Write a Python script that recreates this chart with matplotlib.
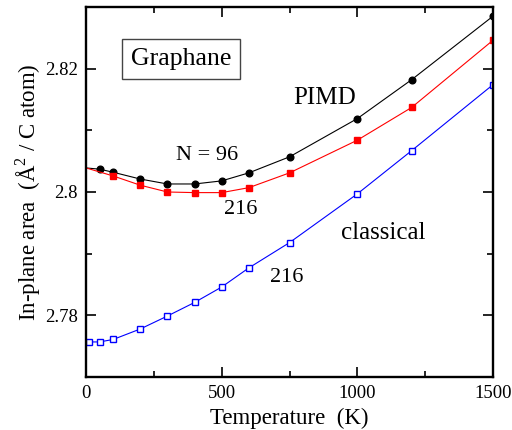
import matplotlib
matplotlib.use("Agg")
import matplotlib.pyplot as plt
from matplotlib.ticker import MultipleLocator, FuncFormatter

plt.rcParams['font.family'] = ['Liberation Serif', 'DejaVu Serif']
plt.rcParams['mathtext.fontset'] = 'custom'
plt.rcParams['mathtext.rm'] = 'Liberation Serif'

# PIMD, N = 96 (black)
t_96 = [0, 50, 100, 200, 300, 400, 500, 600, 750, 1000, 1200, 1500]
a_96 = [2.8039, 2.8037, 2.8032, 2.8021, 2.8013, 2.8013, 2.8018, 2.8031,
        2.8057, 2.8119, 2.8182, 2.8285]

# PIMD, N = 216 (red)
t_216 = [0, 100, 200, 300, 400, 500, 600, 750, 1000, 1200, 1500]
a_216 = [2.8039, 2.8026, 2.8011, 2.8000, 2.7999, 2.7999, 2.8007, 2.8031,
         2.8084, 2.8137, 2.8246]

# classical, N = 216 (blue)
t_cl = [10, 50, 100, 200, 300, 400, 500, 600, 750, 1000, 1200, 1500]
a_cl = [2.7757, 2.7757, 2.7761, 2.7778, 2.7799, 2.7821, 2.7846, 2.7877,
        2.7918, 2.7997, 2.8067, 2.8174]


def main():
    fig = plt.figure(figsize=(5.12, 4.30), dpi=100)
    ax = fig.add_axes([0.168, 0.123, 0.795, 0.861])

    # markers only where points were computed, first black/red point is the T=0 limit
    ax.plot(t_96, a_96, '-', color='black', lw=0.8)
    ax.plot(t_96[1:], a_96[1:], 'o', color='black', ms=4.8, ls='none')
    ax.plot(t_216, a_216, '-', color='red', lw=0.8)
    ax.plot(t_216[1:], a_216[1:], 's', color='red', ms=4.0, ls='none')
    ax.plot(t_cl, a_cl, '-', color='blue', lw=0.8, marker='s', ms=4.2,
            mfc='white', mec='blue', mew=1.0)

    ax.set_xlim(0, 1500)
    ax.set_ylim(2.77, 2.83)
    ax.xaxis.set_major_locator(MultipleLocator(500))
    ax.xaxis.set_minor_locator(MultipleLocator(250))
    ax.yaxis.set_major_locator(MultipleLocator(0.02))
    ax.yaxis.set_minor_locator(MultipleLocator(0.01))
    ax.yaxis.set_major_formatter(FuncFormatter(lambda v, p: '%g' % round(v, 3)))

    ax.tick_params(which='both', direction='in', top=True, right=True,
                   labelsize=13.5, width=1.2)
    ax.tick_params(which='major', length=7, pad=6)
    ax.tick_params(which='minor', length=4.5)
    for s in ax.spines.values():
        s.set_linewidth(1.7)

    ax.set_xlabel('Temperature  (K)', fontsize=16.5, labelpad=4)
    ax.set_ylabel(r'In-plane area  (Å$^2$ / C atom)', fontsize=16.5, labelpad=1)

    ax.text(350, 2.8215, 'Graphane', fontsize=18.5, ha='center', va='center',
            bbox=dict(boxstyle='square,pad=0.35', fc='white', ec='#444444', lw=1.0))
    ax.text(879, 2.8152, 'PIMD', fontsize=18, ha='center', va='center')
    ax.text(446, 2.8059, 'N = 96', fontsize=16, ha='center', va='center')
    ax.text(571, 2.7971, '216', fontsize=16, ha='center', va='center')
    ax.text(1096, 2.7934, 'classical', fontsize=18, ha='center', va='center')
    ax.text(741, 2.7862, '216', fontsize=16, ha='center', va='center')

    plt.savefig('out.png', dpi=100)


if __name__ == '__main__':
    main()
